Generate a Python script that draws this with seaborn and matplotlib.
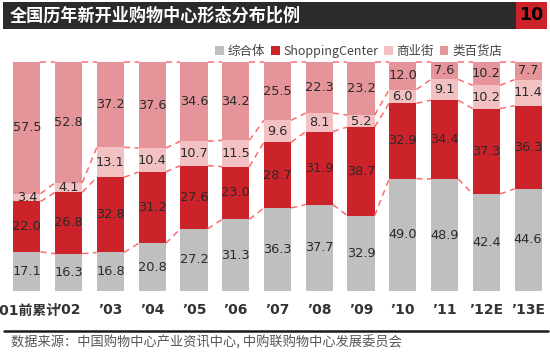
import numpy as np
import pandas as pd
import matplotlib
matplotlib.use("Agg")
import matplotlib.pyplot as plt
from matplotlib.patches import Patch, Rectangle
import seaborn as sns

years = ["’01前累计", "’02", "’03", "’04", "’05", "’06", "’07", "’08", "’09", "’10", "’11", "’12E", "’13E"]
complex_ = [17.1, 16.3, 16.8, 20.8, 27.2, 31.3, 36.3, 37.7, 32.9, 49.0, 48.9, 42.4, 44.6]
shopping = [22.0, 26.8, 32.8, 31.2, 27.6, 23.0, 28.7, 31.9, 38.7, 32.9, 34.4, 37.3, 36.3]
street = [3.4, 4.1, 13.1, 10.4, 10.7, 11.5, 9.6, 8.1, 5.2, 6.0, 9.1, 10.2, 11.4]
dept = [57.5, 52.8, 37.2, 37.6, 34.6, 34.2, 25.5, 22.3, 23.2, 12.0, 7.6, 10.2, 7.7]
series_names = ["综合体", "ShoppingCenter", "商业街", "类百货店"]
colors = ["#BFBFBF", "#CC2229", "#F3C1C2", "#E5959A"]

title = "全国历年新开业购物中心形态分布比例"
page_no = "10"
source = "数据来源：中国购物中心产业资讯中心, 中购联购物中心发展委员会"

sns.set_theme(style="white")
plt.rcParams['font.family'] = ['DejaVu Sans', 'Noto Sans CJK SC']

fig = plt.figure(figsize=(5.5, 3.54), dpi=100)
W, H = 550, 354
ax = fig.add_axes([6 / W, 63 / H, 543 / W, 229 / H])

vals = np.array([complex_, shopping, street, dept])
totals = vals.sum(axis=0)
pct = vals / totals * 100
cum = np.cumsum(pct, axis=0)

bw = 0.65
for k in range(3, -1, -1):
    df = pd.DataFrame({"year": years, "v": cum[k]})
    sns.barplot(data=df, x="year", y="v", order=years, color=colors[k],
                saturation=1, width=bw, ax=ax, edgecolor="none", linewidth=0)

# series lines
xs = np.arange(len(years))
for k in range(4):
    for i in range(len(years) - 1):
        ax.plot([xs[i] + bw / 2, xs[i + 1] - bw / 2], [cum[k][i], cum[k][i + 1]],
                color="#FF6B6B", lw=1.1, ls=(0, (4, 3)), zorder=5, clip_on=False)

# data labels
for k in range(4):
    for i in range(len(years)):
        base = cum[k][i] - pct[k][i]
        ax.text(xs[i], base + pct[k][i] / 2, f"{vals[k][i]:.1f}", ha="center", va="center",
                fontsize=9.3, color="#2a2a2a", family=["DejaVu Sans"], zorder=6)

ax.set_xlim(-0.5, len(years) - 0.5)
ax.set_ylim(0, 100)
ax.set_xlabel("")
ax.set_ylabel("")
ax.set_yticks([])
ax.set_xticks(xs)
ax.set_xticklabels(years, fontsize=10, fontweight="bold", color="#333333")
ax.tick_params(axis="x", length=0, pad=9)
for s in ax.spines.values():
    s.set_visible(False)

# title bar
fig.patches.append(Rectangle((3 / W, 1 - 29 / H), 513 / W, 27 / H, transform=fig.transFigure,
                             facecolor="#2B2B2B", edgecolor="none", zorder=0))
fig.patches.append(Rectangle((516 / W, 1 - 29 / H), 31 / W, 27 / H, transform=fig.transFigure,
                             facecolor="#CC2229", edgecolor="none", zorder=0))
fig.text(10 / W, 1 - 15.5 / H, title, color="white", fontsize=12.3, fontweight="bold",
         va="center", ha="left", family=["Noto Sans CJK SC"])
fig.text(531.5 / W, 1 - 15.5 / H, page_no, color="black", fontsize=12.5, fontweight="bold",
         va="center", ha="center", family=["DejaVu Sans"])

# legend
handles = [Patch(facecolor=c, edgecolor="none") for c in colors]
fig.legend(handles, series_names, loc="center right", bbox_to_anchor=(502 / W, 1 - 51 / H),
           ncol=4, frameon=False, handlelength=0.7, handleheight=0.7,
           handletextpad=0.3, columnspacing=0.45, labelcolor="#444444",
           borderaxespad=0, borderpad=0,
           prop={"family": ["Noto Sans CJK SC"], "size": 9})

# footer
fig.add_artist(plt.Line2D([4 / W, 548 / W], [1 - 331 / H, 1 - 331 / H], transform=fig.transFigure,
                          color="#1a1a1a", lw=1.8))
fig.text(11 / W, 1 - 343 / H, source, fontsize=9.5, color="#555555", va="center", ha="left",
         family=["Noto Sans CJK SC"])

fig.savefig("out.png", dpi=100)
